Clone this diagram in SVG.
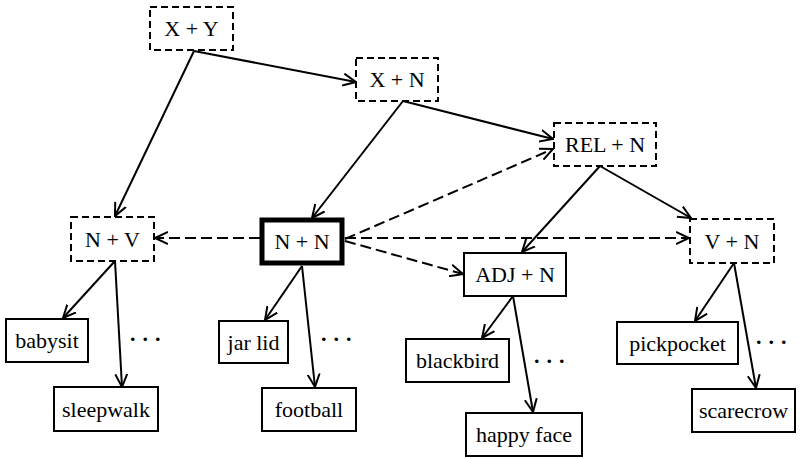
<svg xmlns="http://www.w3.org/2000/svg" width="801" height="459" viewBox="0 0 801 459">
<defs>
<style>
.box{fill:#fff;stroke:#000;stroke-width:2}
.dash{stroke-dasharray:7,4}
.thick{stroke-width:5}
text{font-family:"Liberation Serif","Times New Roman",serif;font-size:22px;fill:#000;text-anchor:middle}
.dots{text-anchor:start;letter-spacing:7px;font-weight:bold}
.c{fill:none;stroke:#000;stroke-width:2;marker-end:url(#ah)}
.cd{stroke-dasharray:11,5}
</style>
<marker id="ah" markerUnits="userSpaceOnUse" markerWidth="16" markerHeight="14" refX="13" refY="6" orient="auto" viewBox="0 0 16 12">
<path d="M0,0 L13,6 L0,12" fill="none" stroke="#000" stroke-width="2"/>
</marker>
</defs>
<rect width="801" height="459" fill="#fff"/>
<g id="connectors">
<line class="c" x1="194" y1="51" x2="356" y2="82"/>
<line class="c" x1="194" y1="51" x2="115" y2="216"/>
<line class="c" x1="403" y1="101" x2="312" y2="218"/>
<line class="c" x1="403" y1="101" x2="553" y2="139"/>
<line class="c" x1="600" y1="166" x2="522" y2="252"/>
<line class="c" x1="600" y1="166" x2="691" y2="218"/>
<line class="c cd" x1="345" y1="239" x2="553" y2="149"/>
<line class="c cd" x1="260" y1="238" x2="155" y2="238"/>
<line class="c cd" x1="345" y1="238" x2="689" y2="238"/>
<line class="c cd" x1="345" y1="241" x2="463" y2="274"/>
<line class="c" x1="115" y1="261" x2="63" y2="318"/>
<line class="c" x1="115" y1="261" x2="122" y2="387"/>
<line class="c" x1="302" y1="266" x2="265" y2="320"/>
<line class="c" x1="302" y1="266" x2="315" y2="387"/>
<line class="c" x1="513" y1="296" x2="482" y2="338"/>
<line class="c" x1="513" y1="296" x2="533" y2="412"/>
<line class="c" x1="734" y1="263" x2="695" y2="321"/>
<line class="c" x1="734" y1="263" x2="756" y2="388"/>
</g>
<g id="n-xy"><rect class="box dash" x="150" y="7" width="83" height="43"/><text x="191.5" y="36">X + Y</text></g>
<g id="n-xn"><rect class="box dash" x="356" y="58" width="82" height="43"/><text x="397" y="87">X + N</text></g>
<g id="n-reln"><rect class="box dash" x="554" y="123" width="102" height="43"/><text x="605" y="152">REL + N</text></g>
<g id="n-nv"><rect class="box dash" x="71" y="217" width="83" height="44"/><text x="112.5" y="246.5">N + V</text></g>
<g id="n-nn"><rect class="box thick" x="262" y="220" width="80" height="43"/><text x="302" y="249">N + N</text></g>
<g id="n-adjn"><rect class="box" x="464" y="253" width="102" height="43"/><text x="515" y="282">ADJ + N</text></g>
<g id="n-vn"><rect class="box dash" x="690" y="219" width="84" height="44"/><text x="732" y="248.5">V + N</text></g>
<g id="n-babysit"><rect class="box" x="6" y="319" width="82" height="43"/><text x="47" y="348">babysit</text></g>
<g id="n-sleepwalk"><rect class="box" x="54" y="387" width="104" height="44"/><text x="106" y="416.5">sleepwalk</text></g>
<g id="n-jarlid"><rect class="box" x="219" y="321" width="69" height="42"/><text x="253.5" y="349.5">jar lid</text></g>
<g id="n-football"><rect class="box" x="262" y="388" width="94" height="43"/><text x="309" y="417">football</text></g>
<g id="n-blackbird"><rect class="box" x="406" y="339" width="103" height="43"/><text x="457.5" y="368">blackbird</text></g>
<g id="n-happyface"><rect class="box" x="466" y="413" width="116" height="43"/><text x="524" y="442">happy face</text></g>
<g id="n-pickpocket"><rect class="box" x="617" y="322" width="121" height="42"/><text x="677.5" y="350.5">pickpocket</text></g>
<g id="n-scarecrow"><rect class="box" x="692" y="389" width="103" height="43"/><text x="743.5" y="418">scarecrow</text></g>
<g id="ellipses">
<text class="dots" x="130" y="341">...</text>
<text class="dots" x="321" y="341">...</text>
<text class="dots" x="534" y="363">...</text>
<text class="dots" x="756" y="344">...</text>
</g>
</svg>
